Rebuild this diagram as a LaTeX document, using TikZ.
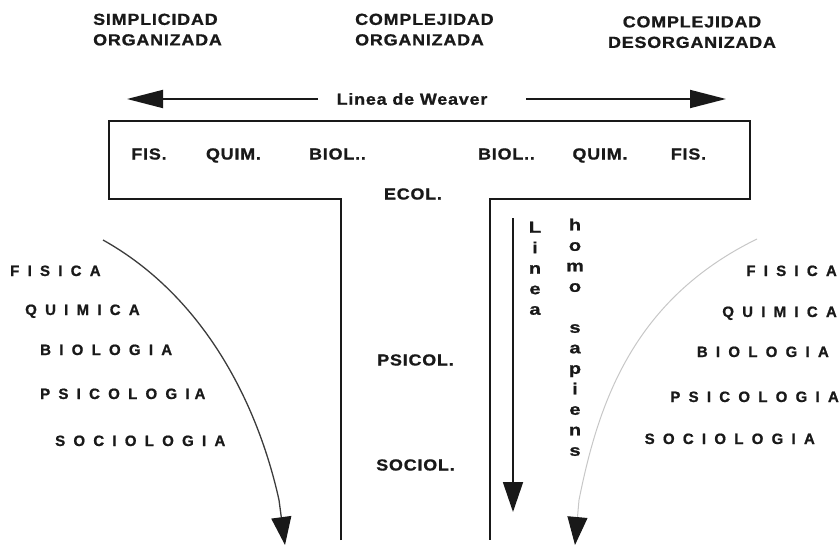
\documentclass[tikz,border=0pt]{standalone}
\usepackage{fontspec}
\usetikzlibrary{arrows.meta}
\setmainfont{Liberation Sans}
\newfontfamily\labfont{Liberation Sans}[LetterSpace=5,FakeStretch=1.12,FakeBold=1]
\newfontfamily\widefont{Liberation Sans}[LetterSpace=55,FakeBold=1]
\newfontfamily\vertfont{Liberation Sans}[FakeStretch=1.25,FakeBold=1]
\definecolor{ink}{gray}{0.1}
\definecolor{pale}{gray}{0.78}
\tikzset{
  lab/.style={inner sep=0pt, text=ink, font=\labfont\bfseries\fontsize{16}{20.5}\selectfont},
  wide/.style={inner sep=0pt, text=ink, font=\widefont\bfseries\fontsize{15}{17}\selectfont},
  vert/.style={inner sep=0pt, text=ink, align=center, font=\vertfont\bfseries\fontsize{16}{20.5}\selectfont},
  frame/.style={draw=ink, line width=2pt},
  bigarrow/.style={draw=ink, line width=1.8pt, -{Triangle[length=36pt,width=18pt]}},
  downarrow/.style={draw=ink, line width=1.8pt, -{Triangle[length=30pt,width=20pt]}},
  curvearrow/.style={line width=1.3pt, -{Triangle[length=28pt,width=20pt,color=ink]}},
}
\begin{document}
\begin{tikzpicture}[x=1pt,y=-1pt]
\useasboundingbox (0,0) rectangle (839,546);

% column headings
\node[lab, anchor=north west, align=left] (simp) at (93,13.5) {SIMPLICIDAD\\ORGANIZADA};
\node[lab, anchor=north west, align=left] (corg) at (355,13.5) {COMPLEJIDAD\\ORGANIZADA};
\node[lab, anchor=north, align=center] (cdes) at (692,16) {COMPLEJIDAD\\DESORGANIZADA};

% Weaver line
\node[lab] (weaver) at (412,99) {Linea de Weaver};
\coordinate (wl0) at (318,99);
\coordinate (wl1) at (127,99);
\coordinate (wr0) at (526,99);
\coordinate (wr1) at (726,99);
\draw[bigarrow] (wl0) -- (wl1);
\draw[bigarrow] (wr0) -- (wr1);

% T-shaped frame
\coordinate (f1) at (341,540);
\coordinate (f2) at (341,199);
\coordinate (f3) at (109,199);
\coordinate (f4) at (109,121);
\coordinate (f5) at (750,121);
\coordinate (f6) at (750,199);
\coordinate (f7) at (490,199);
\coordinate (f8) at (490,540);
\draw[frame] (f1) -- (f2) -- (f3) -- (f4) -- (f5) -- (f6) -- (f7) -- (f8);

% labels inside the frame
\node[lab, anchor=base] (fisl) at (149,159.5) {FIS.};
\node[lab, anchor=base] (quiml) at (233.5,159.5) {QUIM.};
\node[lab, anchor=base] (biol) at (337.5,159.5) {BIOL..};
\node[lab, anchor=base] (bior) at (506.5,159.5) {BIOL..};
\node[lab, anchor=base] (quimr) at (600,159.5) {QUIM.};
\node[lab, anchor=base] (fisr) at (688.5,159.5) {FIS.};
\node[lab, anchor=base] (ecol) at (413,199.5) {ECOL.};
\node[lab, anchor=base] (psicol) at (415.5,365.5) {PSICOL.};
\node[lab, anchor=base] (sociol) at (415.5,470.5) {SOCIOL.};

% human line
\coordinate (h0) at (513,218);
\coordinate (h1) at (513,512);
\draw[downarrow] (h0) -- (h1);
\node[vert, anchor=north] (linea) at (535,221.5) {L\\i\\n\\e\\a};
\node[vert, anchor=north] (homo) at (575,218.5) {h\\o\\m\\o\\[20.5pt]s\\a\\p\\i\\e\\n\\s};

% left sequence of sciences
\node[wide, anchor=base west] (lfis) at (10,276) {FISICA};
\node[wide, anchor=base west] (lqui) at (25,315) {QUIMICA};
\node[wide, anchor=base west] (lbio) at (40,355) {BIOLOGIA};
\node[wide, anchor=base west] (lpsi) at (40,399) {PSICOLOGI\kern5pt A};
\node[wide, anchor=base west] (lsoc) at (55,446) {SOCIOLOGIA};

% right sequence of sciences
\node[wide, anchor=base east] (rfis) at (837,276) {FISICA};
\node[wide, anchor=base east] (rqui) at (837,317) {QUIMICA};
\node[wide, anchor=base east] (rbio) at (829,357) {BIOLOGIA};
\node[wide, anchor=base east] (rpsi) at (839,402) {PSICOLOGIA};
\node[wide, anchor=base east] (rsoc) at (815,444) {SOCIOLOGIA};

% curved arrows, each ending in a straight downward tip
\coordinate (la0) at (103,240);
\coordinate (la1) at (279,500);
\coordinate (la2) at (285,545);
\coordinate (ra0) at (757,239);
\coordinate (ra1) at (579,500);
\coordinate (ra2) at (575,545);
\draw[curvearrow, draw=ink!85] (la0) .. controls (205,297) and (258,405) .. (la1) -- (la2);
\draw[curvearrow, draw=pale, line width=1pt] (ra0) .. controls (632,300) and (598,405) .. (ra1) -- (ra2);
\end{tikzpicture}
\end{document}
